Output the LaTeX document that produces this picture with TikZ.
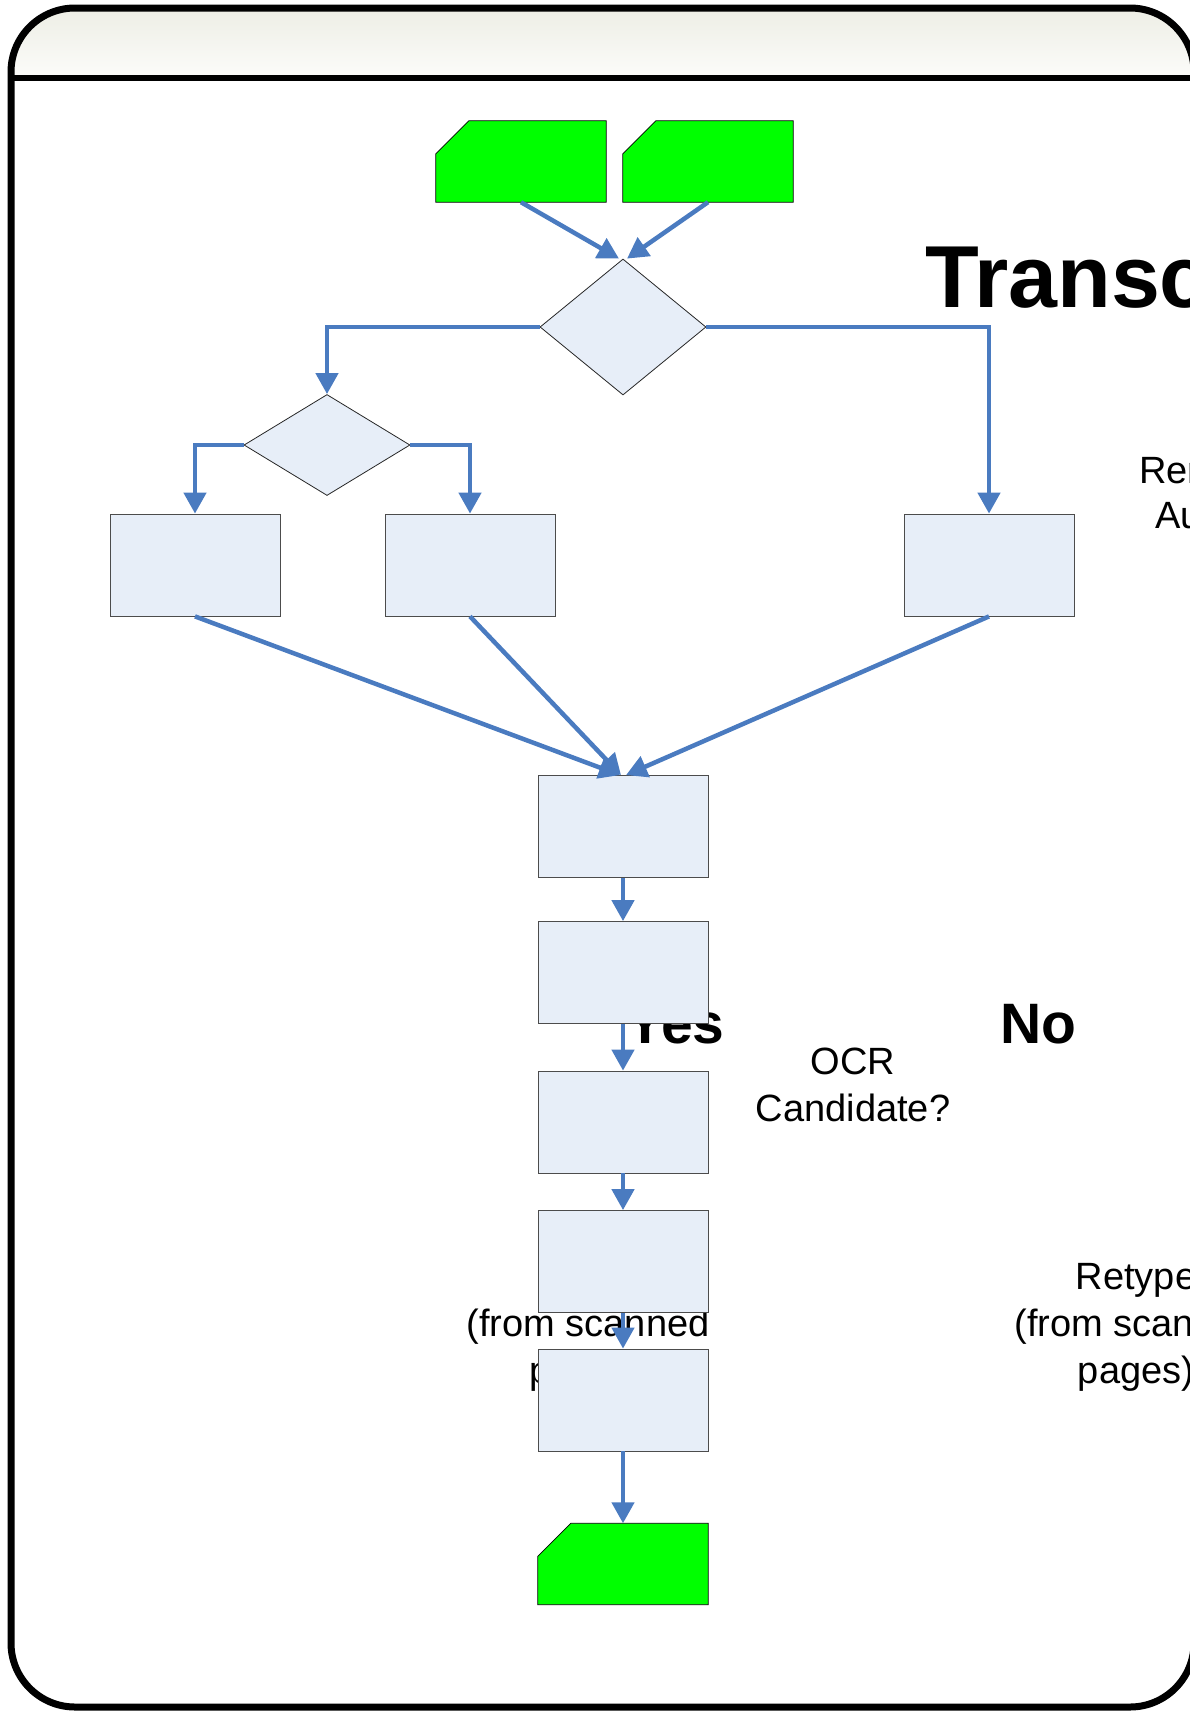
\documentclass[tikz,border=0pt]{standalone}
\usepackage{fontspec}
\setmainfont{Liberation Sans}
\usetikzlibrary{arrows.meta,shapes.geometric}

\definecolor{flowblue}{RGB}{74,123,192}
\definecolor{boxfill}{RGB}{231,238,248}
\definecolor{termgreen}{RGB}{0,255,0}
\definecolor{headtop}{RGB}{237,238,229}
\definecolor{headbot}{RGB}{252,252,250}

\begin{document}
\begin{tikzpicture}[x=1pt, y=-1pt, >={Triangle[width=22pt,length=21pt]},
		flow/.style={->, draw=flowblue, line width=4.5pt},
		procbox/.style={rectangle, draw=black!70, fill=boxfill, line width=0.8pt, minimum width=170pt, minimum height=102pt, inner sep=0pt},
		decision/.style={diamond, draw=black!85, fill=boxfill, line width=0.8pt, inner sep=0pt},
		terminal/.style={rectangle, minimum width=170pt, minimum height=81pt, inner sep=0pt},
		lbl/.style={font=\fontsize{38}{47}\selectfont, inner sep=0pt},
		bigword/.style={font=\fontsize{57}{60}\selectfont\bfseries, inner sep=0pt}]
	
	\useasboundingbox (0,0) rectangle (1189,1711);
	
	% ================= frame and header =================
	\begin{scope}
		\clip[rounded corners=64pt] (11,8) rectangle (1194,1707);
		\shade[top color=headtop, bottom color=headbot] (11,8) rectangle (1194,78);
	\end{scope}
	\draw[line width=5.5pt] (11,78) -- (1194,78);
	\draw[line width=7pt, rounded corners=64pt] (11,8) rectangle (1194,1707);
	
	% ================= labels (behind the boxes) =================
	% multi-line nodes: base = last line
	\node[anchor=base west, inner sep=0pt, font=\fontsize{88}{90}\selectfont\bfseries] (title) at (925,307) {Transc};
	\node[lbl, anchor=base west] (ren) at (1139,483) {Ren};
	\node[lbl, anchor=base west] (au) at (1155,528) {Au};
	\node[bigword, anchor=base west] (yes) at (626,1043) {Yes};
	\node[bigword, anchor=base west] (no) at (1000,1043) {No};
	\node[lbl, align=center, anchor=base] (ocr) at (853,1121) {OCR\\Candidate?};
	\node[lbl, align=center, anchor=base] (retype) at (1136,1383) {Retype\\(from scanned\\pages)};
	\node[lbl, align=center, anchor=base] (scanned) at (588,1383) {(from scanned\\pages)};
	
	% ================= shapes =================
	\node[terminal] (start1) at (521,161.5) {};
	\node[terminal] (start2) at (708,161.5) {};
	\node[terminal] (finish) at (623,1564) {};
	\foreach \t in {start1,start2,finish}
		\draw[fill=termgreen, line width=0.8pt] (\t.south west) -- ([yshift=-33pt]\t.north west) -- ([xshift=33pt]\t.north west) -- (\t.north east) -- (\t.south east) -- cycle;
	
	\node[decision, minimum width=166pt, minimum height=136pt] (split) at (623,327) {};
	\node[decision, minimum width=166pt, minimum height=101pt] (choice) at (327,445) {};
	
	\node[procbox] (left1) at (195,565) {};
	\node[procbox] (left2) at (470,565) {};
	\node[procbox] (right1) at (989,565) {};
	
	% centre column
	\node[procbox] (merge) at (623,826.5) {};
	\node[procbox] (stepA) at (623,972.5) {};
	\node[procbox] (stepB) at (623,1122) {};
	\node[procbox] (stepC) at (623,1261.5) {};
	\node[procbox] (stepD) at (623,1400) {};
	
	% ================= connectors =================
	\draw[flow] (start1.south) -- ([xshift=-4pt]split.north);
	\draw[flow] (start2.south) -- ([xshift=4pt]split.north);
	\draw[flow] (split.west) -| (choice.north);
	\draw[flow] (split.east) -| (right1.north);
	\draw[flow] (choice.west) -| (left1.north);
	\draw[flow] (choice.east) -| (left2.north);
	\draw[flow] (left1.south) -- ([xshift=-3pt]merge.north);
	\draw[flow] (left2.south) -- ([xshift=-2pt]merge.north);
	\draw[flow] (right1.south) -- ([xshift=3pt]merge.north);
	\foreach \a/\b in {merge/stepA, stepA/stepB, stepB/stepC, stepC/stepD, stepD/finish}
		\draw[flow] (\a.south) -- (\b.north);
	
\end{tikzpicture}
\end{document}
